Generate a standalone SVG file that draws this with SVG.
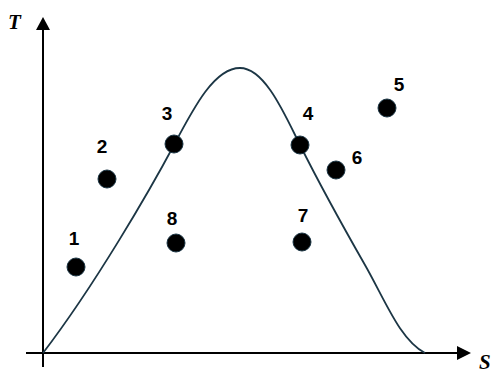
<svg xmlns="http://www.w3.org/2000/svg" width="496" height="374" viewBox="0 0 496 374">
<defs>
<style>
.axis{stroke:#000;stroke-width:2;fill:none}
.curve{stroke:#1c3645;stroke-width:1.8;fill:none}
.dot{fill:#000;stroke:#1c3645;stroke-width:1}
.lbl{font-family:"Liberation Sans",Arial,sans-serif;font-weight:bold;font-size:19px;fill:#000;text-anchor:middle}
.ax{font-family:"Liberation Serif","Times New Roman",serif;font-style:italic;font-weight:bold;font-size:21px;fill:#000}
</style>
</defs>
<rect width="496" height="374" fill="#fff"/>
<g id="axes">
<line class="axis" x1="43" y1="367" x2="43" y2="28"/>
<polygon points="43,17 36,30 50,30" fill="#000"/>
<line class="axis" x1="26" y1="353" x2="458" y2="353"/>
<polygon points="471,353 457,346 457,360" fill="#000"/>
<text class="ax" x="8" y="29">T</text>
<text class="ax" x="479" y="369">S</text>
</g>
<g id="connectors">
<path class="curve" d="M43,353 C95,285 150,190 174,145 C195,105 215,68 240,68 C265,68 285,115 300,145 C320,185 345,230 365,265 C385,300 400,340 425,353"/>
</g>
<g id="p1"><circle class="dot" cx="76" cy="267" r="9"/><text class="lbl" x="74" y="245">1</text></g>
<g id="p2"><circle class="dot" cx="107" cy="179" r="9"/><text class="lbl" x="102" y="153">2</text></g>
<g id="p3"><circle class="dot" cx="174" cy="144" r="9"/><text class="lbl" x="167" y="120">3</text></g>
<g id="p4"><circle class="dot" cx="300" cy="145" r="9"/><text class="lbl" x="308" y="120">4</text></g>
<g id="p5"><circle class="dot" cx="387" cy="108" r="9"/><text class="lbl" x="399" y="91">5</text></g>
<g id="p6"><circle class="dot" cx="336" cy="170" r="9"/><text class="lbl" x="357" y="164">6</text></g>
<g id="p7"><circle class="dot" cx="302" cy="242" r="9"/><text class="lbl" x="303" y="222">7</text></g>
<g id="p8"><circle class="dot" cx="176" cy="243" r="9"/><text class="lbl" x="172" y="225">8</text></g>
</svg>
